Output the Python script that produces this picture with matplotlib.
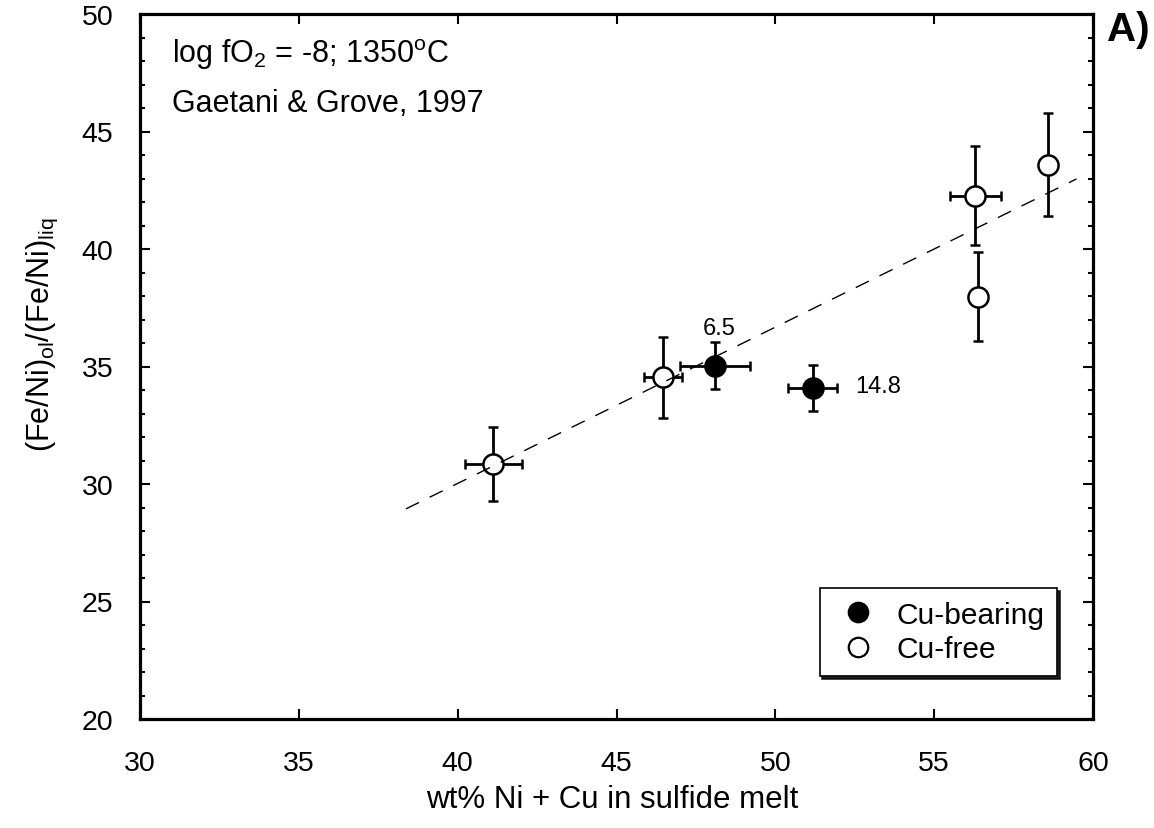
import matplotlib
matplotlib.use("Agg")
import matplotlib.pyplot as plt
from matplotlib.lines import Line2D
import numpy as np

plt.rcParams['font.family'] = ['Liberation Sans', 'DejaVu Sans']
plt.rcParams['mathtext.default'] = 'regular'

# Cu-bearing (filled)
cub_x = [48.1, 51.17]
cub_y = [35.03, 34.07]
cub_xerr = [1.1, 0.76]
cub_yerr = [1.0, 0.98]
cub_labels = ["6.5", "14.8"]

# Cu-free (open)
cuf_x = [41.12, 46.47, 56.3, 56.39, 58.59]
cuf_y = [30.85, 34.54, 42.27, 37.97, 43.59]
cuf_xerr = [0.9, 0.6, 0.8, 0.0, 0.0]
cuf_yerr = [1.56, 1.72, 2.1, 1.9, 2.2]

# regression line
fit_x = [38.37, 59.48]
fit_y = [28.94, 42.98]

xticks = [30, 35, 40, 45, 50, 55, 60]
yticks = [20, 25, 30, 35, 40, 45, 50]

fig = plt.figure(figsize=(11.54, 8.29), dpi=100)
ax = fig.add_axes([140/1154, 1-720/829, (1093-140)/1154, (720-15)/829])

eb_kw = dict(fmt='o', ms=14.5, mew=1.8, mec='black', ecolor='black',
             elinewidth=2.0, capsize=3.6, capthick=2.0, zorder=3)
ax.errorbar(cub_x, cub_y, xerr=cub_xerr, yerr=cub_yerr, mfc='black', **eb_kw)
ax.errorbar(cuf_x, cuf_y, xerr=cuf_xerr, yerr=cuf_yerr, mfc='white', **eb_kw)

ax.plot(fit_x, fit_y, color='black', lw=1.0, dashes=(10.5, 8.5), zorder=4)

# labels near Cu-bearing points
ax.annotate(cub_labels[0], (cub_x[0], cub_y[0]), xytext=(3, 27), textcoords='offset points',
            ha='center', va='center', fontsize=17)
ax.annotate(cub_labels[1], (cub_x[1], cub_y[1]), xytext=(47, 2), textcoords='offset points',
            ha='center', va='center', fontsize=17)

ax.set_xlim(30, 60)
ax.set_ylim(20, 50)
ax.set_xticks(xticks)
ax.set_yticks(yticks)
ax.set_yticks(np.arange(20, 51, 1), minor=True)
ax.tick_params(which='both', direction='in', top=True, right=True, width=1.5,
               labelsize=20.5)
ax.tick_params(which='major', length=7)
ax.tick_params(which='minor', length=3.5)
ax.tick_params(axis='x', pad=22)
ax.tick_params(axis='y', pad=19)
for s in ax.spines.values():
    s.set_linewidth(2.3)

ax.set_xlabel('wt% Ni + Cu in sulfide melt', fontsize=22.5)
ax.xaxis.set_label_coords((612-140)/953, -(785-720)/705)
ax.set_ylabel('(Fe/Ni)$_{ol}$/(Fe/Ni)$_{liq}$', fontsize=22)
ax.yaxis.set_label_coords(-(140-60)/953, (720-335)/705)

ax.text((172-140)/953, (720-63)/705, 'log fO$_2$ = -8; 1350$^{o}$C', transform=ax.transAxes,
        fontsize=22, va='baseline', ha='left')
ax.text((172-140)/953, (720-112)/705, 'Gaetani & Grove, 1997', transform=ax.transAxes,
        fontsize=22, va='baseline', ha='left')

fig.text(1128/1154, 1-30/829, 'A)', fontsize=29, fontweight='bold', ha='center', va='center')

handles = [
    Line2D([], [], ls='none', marker='o', ms=14, mfc='black', mec='black', mew=1.6),
    Line2D([], [], ls='none', marker='o', ms=14, mfc='white', mec='black', mew=1.6),
]
leg = ax.legend(handles, ['Cu-bearing', 'Cu-free'], loc='lower right',
                bbox_to_anchor=((1057-140)/953, (720-677)/705),
                borderaxespad=0, fancybox=False, edgecolor='black', framealpha=1,
                shadow={'color': 'black', 'alpha': 0.85}, fontsize=21.5,
                handletextpad=0.45, borderpad=0.42, labelspacing=0.22,
                handlelength=1.7)
leg.get_frame().set_linewidth(1.2)

fig.savefig('out.png', dpi=100)
